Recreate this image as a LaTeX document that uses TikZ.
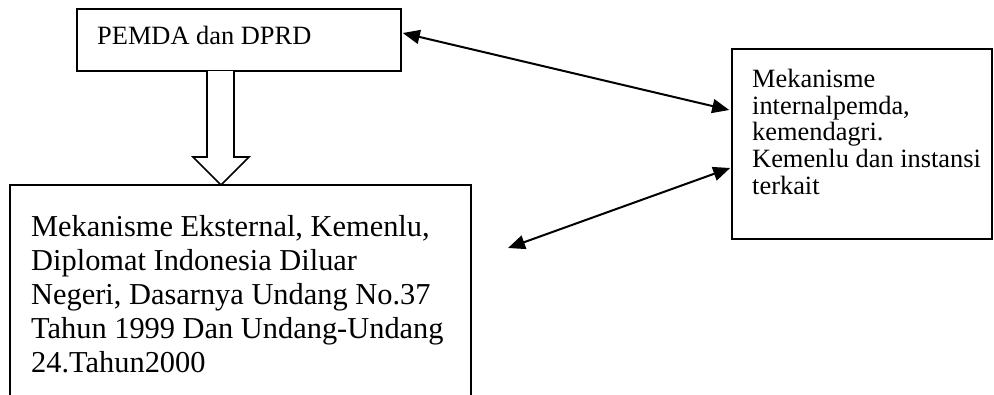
\documentclass[tikz,border=0pt]{standalone}
\usepackage{fontspec}
\setmainfont{Liberation Serif}
\usetikzlibrary{arrows.meta}
\begin{document}
\begin{tikzpicture}[x=1pt,y=-1pt,
  boxframe/.style={draw=black,line width=1.6pt,inner sep=0pt,fill=none},
  smalltxt/.style={anchor=base west,inner sep=0pt,font=\fontsize{26.4}{28}\selectfont},
  bigtxt/.style={anchor=base west,inner sep=0pt,font=\fontsize{30.4}{34}\selectfont},
  link/.style={line width=2pt,{Triangle[length=17pt,width=14pt]}-{Triangle[length=17pt,width=14pt]}}]
\useasboundingbox[fill=white] (0,0) rectangle (994,394);
% top box
\node[boxframe,minimum width=324pt,minimum height=62pt] (pemda) at (239,40) {};
\node[smalltxt] (pemdat) at (97,44) {PEMDA dan DPRD};
% right box
\node[boxframe,minimum width=260pt,minimum height=190pt] (intern) at (862,144) {};
\node[smalltxt] (i1) at (752,87) {Mekanisme};
\node[smalltxt] (i2) at (752,114) {internalpemda,};
\node[smalltxt] (i3) at (752,140.5) {kemendagri.};
\node[smalltxt] (i4) at (752,167.5) {Kemenlu dan instansi};
\node[smalltxt] (i5) at (752,194) {terkait};
% bottom box (open at the bottom)
\node[inner sep=0pt,minimum width=461pt,minimum height=220pt] (ext) at (240.5,295) {};
\draw[line width=1.6pt] (ext.south west) -- (ext.north west) -- (ext.north east) -- (ext.south east);
\node[bigtxt] (e1) at (31,236) {Mekanisme Eksternal, Kemenlu,};
\node[bigtxt] (e2) at (31,270) {Diplomat Indonesia Diluar};
\node[bigtxt] (e3) at (31,304) {Negeri, Dasarnya Undang No.37};
\node[bigtxt] (e4) at (31,338) {Tahun 1999 Dan Undang-Undang};
\node[bigtxt] (e5) at (31,372) {24.Tahun2000};
% hollow block arrow
\draw[line width=1.6pt,fill=white,line join=miter]
  (207,71) -- (207,157) -- (193,157) -- (221,185) -- (249,157) -- (234,157) -- (234,71);
% double arrows
\draw[link] ([yshift=7pt,xshift=1pt]pemda.east) -- ([yshift=34pt,xshift=-2pt]intern.west);
\coordinate (extend) at (508,248);
\draw[link] (extend) -- ([yshift=-24pt,xshift=-1pt]intern.west);
\end{tikzpicture}
\end{document}
